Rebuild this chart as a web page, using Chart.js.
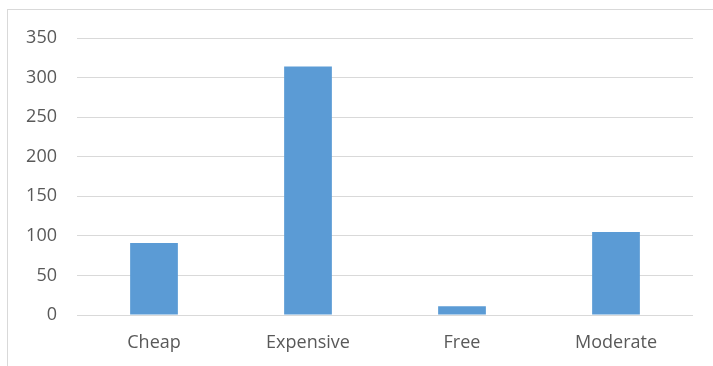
<!DOCTYPE html>
<html>
<head>
<meta charset="utf-8">
<script src="https://cdn.jsdelivr.net/npm/chart.js@4/dist/chart.umd.min.js"></script>
<style>
    html, body { margin: 0; padding: 0; background: #fff; }
    #wrap { position: relative; width: 713px; height: 366px; }
    #frame { position: absolute; left: 7px; top: 9px; right: -2px; bottom: -2px; border: 1px solid #d9d9d9; }
    canvas { position: absolute; left: 0; top: 0; }
</style>
</head>
<body>
<div id="wrap">
    <div id="frame"></div>
    <canvas id="barChart" width="713" height="366"></canvas>
</div>
<script>
// data
const categories = ['Cheap', 'Expensive', 'Free', 'Moderate'];
const counts = [91, 314, 11, 105];
const yTicks = [0, 50, 100, 150, 200, 250, 300, 350];

const textColor = '#595959';
const gridColor = '#d9d9d9';

const ctx = document.getElementById('barChart').getContext('2d');
const barChart = new Chart(ctx, {
    type: 'bar',
    data: {
        labels: categories,
        datasets: [{
            label: 'Count',
            data: counts,
            backgroundColor: '#5b9bd5',
            borderWidth: 0,
            barPercentage: 0.31,
            categoryPercentage: 1
        }]
    },
    options: {
        responsive: false,
        animation: false,
        layout: {
            padding: { left: 0, right: 20, top: 38, bottom: 0 }
        },
        plugins: {
            legend: { display: false },
            tooltip: { enabled: false }
        },
        scales: {
            x: {
                grid: { display: false, drawTicks: false },
                border: { display: false },
                ticks: {
                    color: textColor,
                    font: { family: 'Open Sans', size: 18 },
                    padding: 17
                },
                afterFit: (axis) => { axis.height = 51; }
            },
            y: {
                min: 0,
                max: 350,
                afterBuildTicks: (axis) => { axis.ticks = yTicks.map(v => ({ value: v })); },
                grid: { color: gridColor, lineWidth: 1, drawTicks: false },
                border: { display: false },
                ticks: {
                    color: textColor,
                    font: { family: 'Open Sans', size: 18 },
                    padding: 20
                },
                afterFit: (axis) => { axis.width = 77; }
            }
        }
    }
});
</script>
</body>
</html>
